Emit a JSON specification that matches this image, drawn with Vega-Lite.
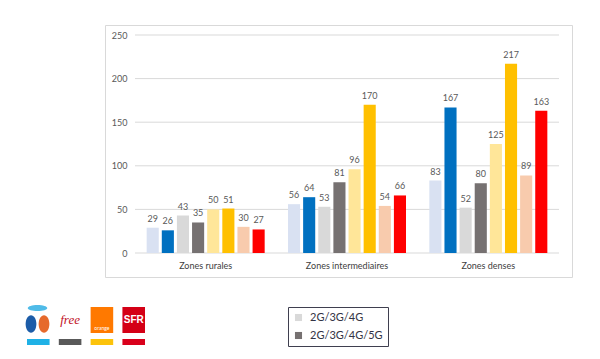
{
  "$schema": "https://vega.github.io/schema/vega-lite/v6.json",
  "width": 467,
  "height": 252,
  "autosize": {"type": "none"},
  "padding": {"left": 105, "top": 25, "right": 28, "bottom": 82},
  "background": "white",
  "config": {
    "view": {"stroke": "#d9d9d9", "strokeWidth": 1},
    "font": "Lato",
    "axis": {"labelFont": "Lato"},
    "legend": {"labelFont": "Lato"}
  },
  "datasets": {
    "bars": [
      {"zone": "Zones rurales", "serie": "Bouygues 2G/3G/4G", "value": 29},
      {"zone": "Zones rurales", "serie": "Bouygues 2G/3G/4G/5G", "value": 26},
      {"zone": "Zones rurales", "serie": "Free 2G/3G/4G", "value": 43},
      {"zone": "Zones rurales", "serie": "Free 2G/3G/4G/5G", "value": 35},
      {"zone": "Zones rurales", "serie": "Orange 2G/3G/4G", "value": 50},
      {"zone": "Zones rurales", "serie": "Orange 2G/3G/4G/5G", "value": 51},
      {"zone": "Zones rurales", "serie": "SFR 2G/3G/4G", "value": 30},
      {"zone": "Zones rurales", "serie": "SFR 2G/3G/4G/5G", "value": 27},
      {"zone": "Zones intermediaires", "serie": "Bouygues 2G/3G/4G", "value": 56},
      {"zone": "Zones intermediaires", "serie": "Bouygues 2G/3G/4G/5G", "value": 64},
      {"zone": "Zones intermediaires", "serie": "Free 2G/3G/4G", "value": 53},
      {"zone": "Zones intermediaires", "serie": "Free 2G/3G/4G/5G", "value": 81},
      {"zone": "Zones intermediaires", "serie": "Orange 2G/3G/4G", "value": 96},
      {"zone": "Zones intermediaires", "serie": "Orange 2G/3G/4G/5G", "value": 170},
      {"zone": "Zones intermediaires", "serie": "SFR 2G/3G/4G", "value": 54},
      {"zone": "Zones intermediaires", "serie": "SFR 2G/3G/4G/5G", "value": 66},
      {"zone": "Zones denses", "serie": "Bouygues 2G/3G/4G", "value": 83},
      {"zone": "Zones denses", "serie": "Bouygues 2G/3G/4G/5G", "value": 167},
      {"zone": "Zones denses", "serie": "Free 2G/3G/4G", "value": 52},
      {"zone": "Zones denses", "serie": "Free 2G/3G/4G/5G", "value": 80},
      {"zone": "Zones denses", "serie": "Orange 2G/3G/4G", "value": 125},
      {"zone": "Zones denses", "serie": "Orange 2G/3G/4G/5G", "value": 217},
      {"zone": "Zones denses", "serie": "SFR 2G/3G/4G", "value": 89},
      {"zone": "Zones denses", "serie": "SFR 2G/3G/4G/5G", "value": 163}
    ],
    "grid": [{"g": 0}, {"g": 50}, {"g": 100}, {"g": 150}, {"g": 200}, {"g": 250}],
    "stripes": [
      {"op": "Bouygues", "part": "stripe"},
      {"op": "Free", "part": "stripe"},
      {"op": "Orange", "part": "stripe"},
      {"op": "SFR", "part": "stripe"}
    ],
    "logos": [
      {"op": "Free", "kind": "logo", "label": "free"},
      {"op": "Orange", "kind": "logo", "label": "orange"},
      {"op": "SFR", "kind": "logo", "label": "SFR"}
    ],
    "bouygues": [
      {"part": "top", "row": "top"},
      {"part": "left", "row": "bottom"},
      {"part": "right", "row": "bottom"}
    ]
  },
  "layer": [
    {
      "data": {"name": "grid"},
      "mark": {"type": "rule", "color": "#d9d9d9", "strokeWidth": 1},
      "encoding": {
        "y": {
          "field": "g", "type": "quantitative",
          "scale": {"domain": [0, 250], "range": [228, 10], "nice": false},
          "axis": {"values": [0, 50, 100, 150, 200, 250], "offset": -30, "domain": false, "ticks": false, "grid": false, "labelPadding": 8, "labelFontSize": 9, "labelColor": "#595959", "title": null}
        },
        "x": {"datum": 0, "type": "quantitative", "scale": {"domain": [0, 1], "range": [30, 454]}, "axis": null},
        "x2": {"datum": 1}
      }
    },
    {
      "data": {"name": "bars"},
      "encoding": {
        "x": {
          "field": "zone", "type": "nominal",
          "sort": ["Zones rurales", "Zones intermediaires", "Zones denses"],
          "scale": {"range": [30, 454], "paddingInner": 0.165, "paddingOuter": 0.0825},
          "axis": {"title": null, "orient": "bottom", "offset": -24, "domain": false, "ticks": false, "labelPadding": 8, "labelAngle": 0, "labelFontSize": 9, "labelColor": "#404040"}
        },
        "xOffset": {
          "field": "serie", "type": "nominal",
          "sort": ["Bouygues 2G/3G/4G", "Bouygues 2G/3G/4G/5G", "Free 2G/3G/4G", "Free 2G/3G/4G/5G", "Orange 2G/3G/4G", "Orange 2G/3G/4G/5G", "SFR 2G/3G/4G", "SFR 2G/3G/4G/5G"],
          "scale": {"paddingInner": 0.2, "paddingOuter": 0}
        },
        "y": {"field": "value", "type": "quantitative", "scale": {"domain": [0, 250], "range": [228, 10], "nice": false}, "axis": null}
      },
      "layer": [
        {
          "mark": {"type": "bar"},
          "encoding": {
            "color": {
              "field": "serie", "type": "nominal",
              "scale": {
                "domain": ["Bouygues 2G/3G/4G", "Bouygues 2G/3G/4G/5G", "Free 2G/3G/4G", "Free 2G/3G/4G/5G", "Orange 2G/3G/4G", "Orange 2G/3G/4G/5G", "SFR 2G/3G/4G", "SFR 2G/3G/4G/5G"],
                "range": ["#d9e1f2", "#0070c0", "#d9d9d9", "#767171", "#ffe699", "#ffc000", "#f8cbad", "#ff0000"]
              },
              "legend": {
                "values": ["Free 2G/3G/4G", "Free 2G/3G/4G/5G"],
                "labelExpr": "replace(datum.label, 'Free ', '')",
                "title": null,
                "orient": "none",
                "legendX": 183,
                "legendY": 282,
                "direction": "vertical",
                "symbolType": "square",
                "symbolSize": 50,
                "symbolStrokeWidth": 0,
                "labelFontSize": 11,
                "labelColor": "#333344",
                "labelOffset": 6,
                "rowPadding": 6,
                "padding": 5,
                "strokeColor": "#3f3f4f",
                "fillColor": "white"
              }
            }
          }
        },
        {
          "mark": {"type": "text", "baseline": "bottom", "dy": -4, "fontSize": 9, "color": "#595959"},
          "encoding": {"text": {"field": "value", "type": "quantitative"}}
        }
      ]
    },
    {
      "data": {"name": "stripes"},
      "mark": {"type": "rect"},
      "encoding": {
        "x": {"field": "op", "type": "nominal", "scale": {"domain": ["Bouygues", "Free", "Orange", "SFR"], "range": [-78, 40], "paddingInner": 0.29, "paddingOuter": 0}, "axis": null},
        "y": {"field": "part", "type": "nominal", "scale": {"range": [314, 320], "padding": 0}, "axis": null},
        "color": {"field": "op", "type": "nominal", "scale": {"domain": ["Bouygues", "Free", "Orange", "SFR"], "range": ["#1fb1e6", "#595959", "#fcc30b", "#d9001b"]}, "legend": null}
      }
    },
    {
      "data": {"name": "logos"},
      "encoding": {
        "x": {"field": "op", "type": "nominal", "scale": {"domain": ["Bouygues", "Free", "Orange", "SFR"], "range": [-78, 40], "paddingInner": 0.29, "paddingOuter": 0}, "axis": null},
        "y": {"field": "kind", "type": "nominal", "scale": {"range": [282, 308], "padding": 0}, "axis": null}
      },
      "layer": [
        {
          "transform": [{"filter": "datum.op !== 'Free'"}],
          "mark": {"type": "rect"},
          "encoding": {"color": {"field": "op", "type": "nominal", "scale": {"domain": ["Orange", "SFR"], "range": ["#ff7900", "#d40016"]}, "legend": null}}
        },
        {
          "transform": [{"filter": "datum.op === 'Free'"}],
          "mark": {"type": "text", "font": "Liberation Serif", "fontStyle": "italic", "fontSize": 13, "color": "#c1121f"},
          "encoding": {"text": {"field": "label"}}
        },
        {
          "transform": [{"filter": "datum.op === 'SFR'"}],
          "mark": {"type": "text", "font": "Liberation Sans", "fontWeight": "bold", "fontSize": 10, "color": "white"},
          "encoding": {"text": {"field": "label"}}
        },
        {
          "transform": [{"filter": "datum.op === 'Orange'"}],
          "mark": {"type": "text", "fontSize": 5, "color": "white", "baseline": "bottom", "dy": -2},
          "encoding": {"text": {"field": "label"}, "y": {"field": "kind", "type": "nominal", "bandPosition": 1}}
        }
      ]
    },
    {
      "data": {"name": "bouygues"},
      "mark": {"type": "point", "filled": true, "opacity": 1, "size": 380, "strokeWidth": 0},
      "encoding": {
        "x": {"field": "part", "type": "nominal", "scale": {"type": "point", "domain": ["left", "top", "right"], "range": [-74, -61], "padding": 0}, "axis": null},
        "y": {"field": "row", "type": "nominal", "scale": {"type": "point", "domain": ["top", "bottom"], "range": [283, 299], "padding": 0}, "axis": null},
        "color": {"field": "part", "type": "nominal", "scale": {"domain": ["left", "top", "right"], "range": ["#1c5ca8", "#4fbbe8", "#e66a2c"]}, "legend": null},
        "shape": {"field": "part", "type": "nominal", "scale": {"domain": ["left", "top", "right"], "range": ["M-0.55,0A0.55,0.9,0,1,1,0.55,0A0.55,0.9,0,1,1,-0.55,0Z", "M-1,0A1,0.32,0,1,1,1,0A1,0.32,0,1,1,-1,0Z", "M-0.55,0A0.55,0.9,0,1,1,0.55,0A0.55,0.9,0,1,1,-0.55,0Z"]}, "legend": null}
      }
    }
  ],
  "resolve": {"scale": {"x": "independent", "y": "independent", "color": "independent", "shape": "independent"}}
}
